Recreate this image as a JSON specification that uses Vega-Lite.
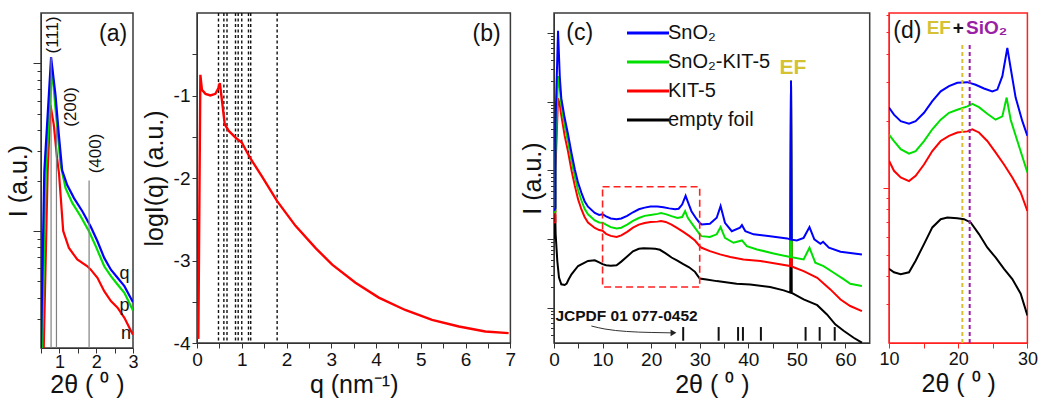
{
"$schema": "https://vega.github.io/schema/vega-lite/v6.json",
"background": "white",
"padding": {"left": 5, "top": 11, "right": 4, "bottom": 2},
"spacing": 0,
"bounds": "flush",
"resolve": {"scale": {"color": "independent"}},
"config": {
  "font": "Liberation Sans",
  "view": {"stroke": "#3a3a3a", "strokeWidth": 1.5},
  "axis": {"grid": false, "domainColor": "#333333", "tickColor": "#333333", "labelColor": "#111111", "titleColor": "#111111", "labelFontSize": 19, "titleFontSize": 25, "titleFontWeight": "normal", "tickSize": 5, "tickCount": 1000, "labelPadding": 2, "labelFlush": false, "labelOverlap": false, "labelBound": false, "titlePadding": 3},
  "legend": {"labelFont": "Liberation Sans"}
},
"datasets": {
  "a": [
    {"s":"n","x":0.574,"I":2},{"s":"n","x":0.68,"I":22.6},{"s":"n","x":0.757,"I":56.5},{"s":"n","x":0.848,"I":43},{"s":"n","x":0.938,"I":27},{"s":"n","x":0.99,"I":22},{"s":"n","x":1.103,"I":10},{"s":"n","x":1.259,"I":7.91},{"s":"n","x":1.486,"I":6.75},{"s":"n","x":1.76,"I":6.15},{"s":"n","x":1.853,"I":5.87},{"s":"n","x":2.034,"I":5.25},{"s":"n","x":2.218,"I":4.37},{"s":"n","x":2.4,"I":3.81},{"s":"n","x":2.58,"I":3.48},{"s":"n","x":2.766,"I":3.03},{"s":"n","x":2.95,"I":2.52},{"s":"n","x":3.0,"I":2.4},
    {"s":"p","x":0.53,"I":2},{"s":"p","x":0.63,"I":22.6},{"s":"p","x":0.8,"I":93},{"s":"p","x":0.894,"I":53.8},{"s":"p","x":0.985,"I":32.6},{"s":"p","x":1.03,"I":25},{"s":"p","x":1.168,"I":18.0},{"s":"p","x":1.35,"I":14.7},{"s":"p","x":1.58,"I":12.2},{"s":"p","x":1.807,"I":9.93},{"s":"p","x":1.99,"I":8.09},{"s":"p","x":2.218,"I":6.15},{"s":"p","x":2.4,"I":5.37},{"s":"p","x":2.58,"I":4.79},{"s":"p","x":2.766,"I":4.27},{"s":"p","x":3.0,"I":3.35},
    {"s":"q","x":0.5,"I":2},{"s":"q","x":0.59,"I":22.6},{"s":"q","x":0.774,"I":109},{"s":"q","x":0.894,"I":64.7},{"s":"q","x":0.985,"I":37.4},{"s":"q","x":1.075,"I":23},{"s":"q","x":1.212,"I":18.8},{"s":"q","x":1.396,"I":15.7},{"s":"q","x":1.623,"I":13.1},{"s":"q","x":1.853,"I":10.6},{"s":"q","x":2.034,"I":8.67},{"s":"q","x":2.218,"I":6.9},{"s":"q","x":2.4,"I":5.87},{"s":"q","x":2.58,"I":5.25},{"s":"q","x":2.766,"I":4.68},{"s":"q","x":3.0,"I":3.75}
  ],
  "ahkl": [{"hkl":"(111)","tt":0.774,"base":2,"top":109},{"hkl":"(200)","tt":0.92,"base":2,"top":42},{"hkl":"(400)","tt":1.807,"base":2,"top":20}],
  "b": [
    {"x":0.0,"y":-3.55},{"x":0.03,"y":-3.95},{"x":0.075,"y":-0.75},{"x":0.11,"y":-0.93},{"x":0.19,"y":-0.98},{"x":0.3,"y":-1.0},{"x":0.41,"y":-0.98},{"x":0.48,"y":-0.91},{"x":0.51,"y":-0.85},{"x":0.56,"y":-1.07},{"x":0.62,"y":-1.35},{"x":0.71,"y":-1.43},{"x":0.86,"y":-1.51},{"x":1.0,"y":-1.57},{"x":1.19,"y":-1.76},{"x":1.45,"y":-1.98},{"x":1.79,"y":-2.28},{"x":2.2,"y":-2.58},{"x":2.65,"y":-2.85},{"x":3.02,"y":-3.05},{"x":3.54,"y":-3.27},{"x":4.06,"y":-3.45},{"x":4.65,"y":-3.6},{"x":5.25,"y":-3.72},{"x":5.85,"y":-3.8},{"x":6.44,"y":-3.86},{"x":6.96,"y":-3.88}
  ],
  "bq": [{"q":0.48},{"q":0.6},{"q":0.67},{"q":0.86},{"q":0.92},{"q":1.0},{"q":1.15},{"q":1.2},{"q":1.79}],
  "jc": [{"p":26.6,"lo":0.331,"hi":0.524},{"p":33.9,"lo":0.331,"hi":0.524},{"p":37.9,"lo":0.331,"hi":0.524},{"p":38.9,"lo":0.331,"hi":0.524},{"p":42.6,"lo":0.331,"hi":0.524},{"p":51.8,"lo":0.331,"hi":0.524},{"p":54.7,"lo":0.331,"hi":0.524},{"p":57.8,"lo":0.331,"hi":0.524}],
  "box": [{"x1":10,"x2":30,"y1":2,"y2":57.5}],
  "arrow": [{"x":7.7,"y":0.542},{"x":10.5,"y":0.49},{"x":14.9,"y":0.452},{"x":20,"y":0.437},{"x":24.3,"y":0.431}],
  "dlines": [{"lab":"EF","p":20.6,"lo":2,"hi":44.7},{"lab":"SiO₂","p":21.66,"lo":2,"hi":44.7}],
  "c": [
    {"s":"empty foil","x":0.1,"I":10},{"s":"empty foil","x":0.25,"I":22.9},{"s":"empty foil","x":0.34,"I":11.7},{"s":"empty foil","x":0.68,"I":4.79},{"s":"empty foil","x":1.03,"I":2.75},{"s":"empty foil","x":1.5,"I":2.19},{"s":"empty foil","x":2.2,"I":2.14},{"s":"empty foil","x":2.6,"I":2.24},{"s":"empty foil","x":3.0,"I":2.57},{"s":"empty foil","x":3.6,"I":3.06},{"s":"empty foil","x":4.96,"I":4.05},{"s":"empty foil","x":7.0,"I":4.79},{"s":"empty foil","x":8.4,"I":4.9},{"s":"empty foil","x":9.3,"I":4.57},{"s":"empty foil","x":10,"I":4.31},{"s":"empty foil","x":10.72,"I":4.16},{"s":"empty foil","x":11.69,"I":4.08},{"s":"empty foil","x":12.89,"I":4.16},{"s":"empty foil","x":13.85,"I":4.69},{"s":"empty foil","x":15.06,"I":5.57},{"s":"empty foil","x":16.26,"I":6.62},{"s":"empty foil","x":17.47,"I":7.21},{"s":"empty foil","x":18.43,"I":7.33},{"s":"empty foil","x":19.87,"I":7.28},{"s":"empty foil","x":20.84,"I":7.21},{"s":"empty foil","x":21.8,"I":6.97},{"s":"empty foil","x":23.0,"I":6.18},{"s":"empty foil","x":24.2,"I":5.38},{"s":"empty foil","x":25.4,"I":4.85},{"s":"empty foil","x":26.62,"I":4.31},{"s":"empty foil","x":27.82,"I":3.88},{"s":"empty foil","x":29.03,"I":3.33},{"s":"empty foil","x":30,"I":2.66},{"s":"empty foil","x":31.4,"I":2.58},{"s":"empty foil","x":33.5,"I":2.44},{"s":"empty foil","x":37.6,"I":2.23},{"s":"empty foil","x":40.4,"I":2.18},{"s":"empty foil","x":44.5,"I":2.0},{"s":"empty foil","x":47.3,"I":1.79},{"s":"empty foil","x":48.65,"I":1.66},{"s":"empty foil","x":48.8,"I":2000},{"s":"empty foil","x":48.95,"I":1.64},{"s":"empty foil","x":51.4,"I":1.32},{"s":"empty foil","x":54.2,"I":1.09},{"s":"empty foil","x":56.2,"I":0.8},{"s":"empty foil","x":57.9,"I":0.573},{"s":"empty foil","x":59.7,"I":0.458},{"s":"empty foil","x":61.7,"I":0.366},{"s":"empty foil","x":63.4,"I":0.31},
    {"s":"KIT-5","x":0.05,"I":17},{"s":"KIT-5","x":0.29,"I":17.8},{"s":"KIT-5","x":0.3,"I":100},{"s":"KIT-5","x":0.83,"I":1120},{"s":"KIT-5","x":1.2,"I":891},{"s":"KIT-5","x":1.5,"I":631},{"s":"KIT-5","x":2.2,"I":316},{"s":"KIT-5","x":2.9,"I":186},{"s":"KIT-5","x":3.6,"I":100},{"s":"KIT-5","x":4.3,"I":58.9},{"s":"KIT-5","x":4.95,"I":38},{"s":"KIT-5","x":5.65,"I":26.9},{"s":"KIT-5","x":6.3,"I":20.9},{"s":"KIT-5","x":7.0,"I":17.4},{"s":"KIT-5","x":8.4,"I":14.5},{"s":"KIT-5","x":9.3,"I":13.5},{"s":"KIT-5","x":10,"I":13.2},{"s":"KIT-5","x":10.72,"I":11.9},{"s":"KIT-5","x":11.69,"I":11.1},{"s":"KIT-5","x":12.89,"I":10.7},{"s":"KIT-5","x":13.85,"I":11.3},{"s":"KIT-5","x":15.06,"I":12.7},{"s":"KIT-5","x":16.26,"I":14.6},{"s":"KIT-5","x":17.47,"I":16.2},{"s":"KIT-5","x":18.67,"I":17.1},{"s":"KIT-5","x":19.87,"I":17.7},{"s":"KIT-5","x":21.32,"I":17.9},{"s":"KIT-5","x":22.04,"I":18.3},{"s":"KIT-5","x":23.0,"I":17.7},{"s":"KIT-5","x":24.2,"I":16.2},{"s":"KIT-5","x":25.4,"I":14.4},{"s":"KIT-5","x":26.62,"I":12.7},{"s":"KIT-5","x":27.82,"I":11.1},{"s":"KIT-5","x":29.03,"I":9.51},{"s":"KIT-5","x":30,"I":7.85},{"s":"KIT-5","x":30.4,"I":7.46},{"s":"KIT-5","x":32.1,"I":6.67},{"s":"KIT-5","x":34.2,"I":5.97},{"s":"KIT-5","x":36.3,"I":5.46},{"s":"KIT-5","x":39.0,"I":5.05},{"s":"KIT-5","x":42.5,"I":4.78},{"s":"KIT-5","x":45.9,"I":4.37},{"s":"KIT-5","x":48.65,"I":4.04},{"s":"KIT-5","x":48.8,"I":2000},{"s":"KIT-5","x":48.95,"I":3.98},{"s":"KIT-5","x":51.4,"I":3.41},{"s":"KIT-5","x":54.2,"I":2.73},{"s":"KIT-5","x":56.9,"I":1.85},{"s":"KIT-5","x":59.0,"I":1.32},{"s":"KIT-5","x":61.0,"I":1.06},{"s":"KIT-5","x":63.4,"I":0.895},
    {"s":"SnO₂-KIT-5","x":0.05,"I":24},{"s":"SnO₂-KIT-5","x":0.29,"I":25.1},{"s":"SnO₂-KIT-5","x":0.3,"I":158},{"s":"SnO₂-KIT-5","x":0.83,"I":2340},{"s":"SnO₂-KIT-5","x":1.2,"I":1580},{"s":"SnO₂-KIT-5","x":1.5,"I":891},{"s":"SnO₂-KIT-5","x":2.2,"I":447},{"s":"SnO₂-KIT-5","x":2.9,"I":257},{"s":"SnO₂-KIT-5","x":3.6,"I":138},{"s":"SnO₂-KIT-5","x":4.3,"I":79.4},{"s":"SnO₂-KIT-5","x":4.95,"I":51.3},{"s":"SnO₂-KIT-5","x":5.65,"I":36.3},{"s":"SnO₂-KIT-5","x":6.3,"I":27.5},{"s":"SnO₂-KIT-5","x":7.0,"I":22.9},{"s":"SnO₂-KIT-5","x":8.4,"I":18.6},{"s":"SnO₂-KIT-5","x":9.3,"I":17.4},{"s":"SnO₂-KIT-5","x":10,"I":17.3},{"s":"SnO₂-KIT-5","x":10.72,"I":16.2},{"s":"SnO₂-KIT-5","x":11.69,"I":14.9},{"s":"SnO₂-KIT-5","x":12.89,"I":14.2},{"s":"SnO₂-KIT-5","x":13.85,"I":14.6},{"s":"SnO₂-KIT-5","x":15.06,"I":16.2},{"s":"SnO₂-KIT-5","x":16.26,"I":18.3},{"s":"SnO₂-KIT-5","x":17.47,"I":20.2},{"s":"SnO₂-KIT-5","x":18.67,"I":21.7},{"s":"SnO₂-KIT-5","x":19.87,"I":22.4},{"s":"SnO₂-KIT-5","x":21.32,"I":23.2},{"s":"SnO₂-KIT-5","x":22.04,"I":23.8},{"s":"SnO₂-KIT-5","x":23.0,"I":23.0},{"s":"SnO₂-KIT-5","x":24.2,"I":21.5},{"s":"SnO₂-KIT-5","x":25.4,"I":20.2},{"s":"SnO₂-KIT-5","x":26.38,"I":20.9},{"s":"SnO₂-KIT-5","x":27.0,"I":25.4},{"s":"SnO₂-KIT-5","x":27.58,"I":20.2},{"s":"SnO₂-KIT-5","x":28.55,"I":16.2},{"s":"SnO₂-KIT-5","x":30,"I":11.7},{"s":"SnO₂-KIT-5","x":30.4,"I":11.0},{"s":"SnO₂-KIT-5","x":32.1,"I":10.7},{"s":"SnO₂-KIT-5","x":33.5,"I":11.7},{"s":"SnO₂-KIT-5","x":34.3,"I":14.9},{"s":"SnO₂-KIT-5","x":35.2,"I":10.4},{"s":"SnO₂-KIT-5","x":36.95,"I":8.81},{"s":"SnO₂-KIT-5","x":38.7,"I":9.53},{"s":"SnO₂-KIT-5","x":39.7,"I":7.89},{"s":"SnO₂-KIT-5","x":41.8,"I":7.05},{"s":"SnO₂-KIT-5","x":45.2,"I":6.17},{"s":"SnO₂-KIT-5","x":48.65,"I":5.46},{"s":"SnO₂-KIT-5","x":48.8,"I":2000},{"s":"SnO₂-KIT-5","x":48.95,"I":5.43},{"s":"SnO₂-KIT-5","x":51.4,"I":5.05},{"s":"SnO₂-KIT-5","x":52.6,"I":7.46},{"s":"SnO₂-KIT-5","x":53.8,"I":4.52},{"s":"SnO₂-KIT-5","x":55.5,"I":4.04},{"s":"SnO₂-KIT-5","x":57.6,"I":3.23},{"s":"SnO₂-KIT-5","x":59.7,"I":2.58},{"s":"SnO₂-KIT-5","x":61.0,"I":2.23},{"s":"SnO₂-KIT-5","x":63.4,"I":2.07},
    {"s":"SnO₂","x":0.05,"I":25.7},{"s":"SnO₂","x":0.29,"I":28.2},{"s":"SnO₂","x":0.3,"I":468},{"s":"SnO₂","x":0.83,"I":10700},{"s":"SnO₂","x":1.2,"I":2240},{"s":"SnO₂","x":1.5,"I":1120},{"s":"SnO₂","x":2.2,"I":575},{"s":"SnO₂","x":2.9,"I":331},{"s":"SnO₂","x":3.6,"I":178},{"s":"SnO₂","x":4.3,"I":102},{"s":"SnO₂","x":4.95,"I":66.1},{"s":"SnO₂","x":5.65,"I":46.8},{"s":"SnO₂","x":6.3,"I":35.5},{"s":"SnO₂","x":7.0,"I":29.5},{"s":"SnO₂","x":8.4,"I":24},{"s":"SnO₂","x":9.3,"I":22.4},{"s":"SnO₂","x":10,"I":22.9},{"s":"SnO₂","x":10.72,"I":21.3},{"s":"SnO₂","x":11.69,"I":19.9},{"s":"SnO₂","x":12.89,"I":19.4},{"s":"SnO₂","x":13.85,"I":19.9},{"s":"SnO₂","x":15.06,"I":21.7},{"s":"SnO₂","x":16.26,"I":24.5},{"s":"SnO₂","x":17.47,"I":27.1},{"s":"SnO₂","x":18.67,"I":28.6},{"s":"SnO₂","x":19.87,"I":29.6},{"s":"SnO₂","x":21.32,"I":29.8},{"s":"SnO₂","x":22.52,"I":29.0},{"s":"SnO₂","x":23.73,"I":27.9},{"s":"SnO₂","x":24.93,"I":27.1},{"s":"SnO₂","x":25.66,"I":27.6},{"s":"SnO₂","x":26.38,"I":31.7},{"s":"SnO₂","x":27.1,"I":42.5},{"s":"SnO₂","x":27.58,"I":34.5},{"s":"SnO₂","x":28.3,"I":25.4},{"s":"SnO₂","x":29.27,"I":19.9},{"s":"SnO₂","x":30,"I":17.1},{"s":"SnO₂","x":30.4,"I":16.3},{"s":"SnO₂","x":32.1,"I":16.7},{"s":"SnO₂","x":33.5,"I":20.4},{"s":"SnO₂","x":34.3,"I":30.1},{"s":"SnO₂","x":35.2,"I":17.2},{"s":"SnO₂","x":36.6,"I":13.0},{"s":"SnO₂","x":38.3,"I":14.6},{"s":"SnO₂","x":38.7,"I":15.9},{"s":"SnO₂","x":39.4,"I":13.0},{"s":"SnO₂","x":41.1,"I":11.7},{"s":"SnO₂","x":44.5,"I":11.0},{"s":"SnO₂","x":48.0,"I":10.2},{"s":"SnO₂","x":48.65,"I":9.86},{"s":"SnO₂","x":48.8,"I":2000},{"s":"SnO₂","x":48.95,"I":9.77},{"s":"SnO₂","x":50.0,"I":9.53},{"s":"SnO₂","x":51.4,"I":10.4},{"s":"SnO₂","x":52.6,"I":14.9},{"s":"SnO₂","x":53.6,"I":9.86},{"s":"SnO₂","x":54.85,"I":8.53},{"s":"SnO₂","x":55.4,"I":9.12},{"s":"SnO₂","x":56.6,"I":7.46},{"s":"SnO₂","x":59.0,"I":6.53},{"s":"SnO₂","x":63.4,"I":5.97}
  ]
},
"hconcat": [
  {
    "width": 92, "height": 335,
    "layer": [
      {"data": {"name": "a"},
       "mark": {"type": "line", "strokeWidth": 2.2, "clip": true},
       "encoding": {
         "x": {"field": "x", "type": "quantitative", "title": "2θ ( ⁰ )", "scale": {"domain": [0.5, 3], "nice": false, "zero": false}, "axis": {"values": [0.5, 1, 1.5, 2, 2.5, 3], "tickCount": 1000, "labelExpr": "datum.value % 1 ? '' : '' + datum.value", "labelFontSize": 18, "labelPadding": 0, "titlePadding": 1}},
         "y": {"field": "I", "type": "quantitative", "title": "I (a.u.)", "scale": {"type": "log", "domain": [2, 200], "nice": false}, "axis": {"values": [3,4,5,6,7,8,9,10,20,30,40,50,60,70,80,90,100], "tickCount": 1000, "tickSize": {"condition": {"test": "datum.value == 10 || datum.value == 100", "value": 8}, "value": 4}, "labels": false, "titlePadding": 1}},
         "color": {"field": "s", "type": "nominal", "scale": {"domain": ["q", "p", "n"], "range": ["#0000ff", "#00e000", "#ff0000"]}, "legend": null}
       }},
      {"data": {"name": "ahkl"},
       "mark": {"type": "rule", "color": "#808080", "strokeWidth": 1.2},
       "encoding": {
         "x": {"field": "tt", "type": "quantitative", "title": "2θ ( ⁰ )"},
         "y": {"field": "base", "type": "quantitative", "title": "I (a.u.)"},
         "y2": {"field": "top"}
       }},
      {"data": {"values": [{}]}, "mark": {"type": "text", "text": "(a)", "fontSize": 23, "color": "#111"},
       "encoding": {"x": {"datum": 2.46, "type": "quantitative"}, "y": {"datum": 150, "type": "quantitative"}}},
      {"data": {"values": [{}]}, "mark": {"type": "text", "text": "(111)", "fontSize": 17, "angle": 270, "color": "#111"},
       "encoding": {"x": {"datum": 0.82, "type": "quantitative"}, "y": {"datum": 148, "type": "quantitative"}}},
      {"data": {"values": [{}]}, "mark": {"type": "text", "text": "(200)", "fontSize": 17, "angle": 270, "color": "#111"},
       "encoding": {"x": {"datum": 1.315, "type": "quantitative"}, "y": {"datum": 55, "type": "quantitative"}}},
      {"data": {"values": [{}]}, "mark": {"type": "text", "text": "(400)", "fontSize": 17, "angle": 270, "color": "#111"},
       "encoding": {"x": {"datum": 2.0, "type": "quantitative"}, "y": {"datum": 29, "type": "quantitative"}}},
      {"data": {"values": [{}]}, "mark": {"type": "text", "text": "q", "fontSize": 18, "color": "#111"},
       "encoding": {"x": {"datum": 2.766, "type": "quantitative"}, "y": {"datum": 5.5, "type": "quantitative"}}},
      {"data": {"values": [{}]}, "mark": {"type": "text", "text": "p", "fontSize": 18, "color": "#111"},
       "encoding": {"x": {"datum": 2.766, "type": "quantitative"}, "y": {"datum": 3.56, "type": "quantitative"}}},
      {"data": {"values": [{}]}, "mark": {"type": "text", "text": "n", "fontSize": 18, "color": "#111"},
       "encoding": {"x": {"datum": 2.81, "type": "quantitative"}, "y": {"datum": 2.42, "type": "quantitative"}}}
    ]
  },
  {"width": 64, "height": 10, "data": {"values": [{}]}, "mark": {"type": "point", "opacity": 0}, "encoding": {}, "view": {"stroke": null}},
  {
    "width": 313.4, "height": 330,
    "layer": [
      {"data": {"name": "bq"},
       "mark": {"type": "rule", "strokeDash": [3, 2.5], "strokeWidth": 1.4, "color": "#111"},
       "encoding": {"x": {"field": "q", "type": "quantitative", "title": "q (nm⁻¹)", "scale": {"domain": [0, 7], "nice": false}, "axis": {"values": [0,0.5,1,1.5,2,2.5,3,3.5,4,4.5,5,5.5,6,6.5,7], "tickCount": 1000, "labelExpr": "datum.value % 1 ? '' : '' + datum.value"}}}},
      {"data": {"name": "b"},
       "mark": {"type": "line", "color": "#ff0000", "strokeWidth": 2.4, "clip": true},
       "encoding": {
         "x": {"field": "x", "type": "quantitative", "title": "q (nm⁻¹)"},
         "y": {"field": "y", "type": "quantitative", "title": "logI(q) (a.u.)", "scale": {"domain": [-4, 0], "nice": false}, "axis": {"values": [-4,-3.5,-3,-2.5,-2,-1.5,-1,-0.5], "tickCount": 1000, "labelExpr": "datum.value % 1 ? '' : '' + datum.value", "titlePadding": 6}}
       }},
      {"data": {"values": [{}]}, "mark": {"type": "text", "text": "(b)", "fontSize": 23, "color": "#111"},
       "encoding": {"x": {"datum": 6.47, "type": "quantitative"}, "y": {"datum": -0.26, "type": "quantitative"}}}
    ]
  },
  {"width": 42.6, "height": 10, "data": {"values": [{}]}, "mark": {"type": "point", "opacity": 0}, "encoding": {}, "view": {"stroke": null}},
  {
    "width": 315.7, "height": 330,
    "layer": [
      {"data": {"name": "c"},
       "mark": {"type": "line", "strokeWidth": 2, "clip": true},
       "encoding": {
         "x": {"field": "x", "type": "quantitative", "title": "2θ ( ⁰ )", "scale": {"domain": [0, 65], "nice": false}, "axis": {"values": [0,5,10,15,20,25,30,35,40,45,50,55,60], "tickCount": 1000, "labelExpr": "datum.value % 10 ? '' : '' + datum.value"}},
         "y": {"field": "I", "type": "quantitative", "title": "I (a.u.)", "scale": {"type": "log", "domain": [0.307, 19400], "nice": false}, "axis": {"values": [0.4,0.5,0.6,0.7,0.8,0.9,1,2,3,4,5,6,7,8,9,10,20,30,40,50,60,70,80,90,100,200,300,400,500,600,700,800,900,1000,2000,3000,4000,5000,6000,7000,8000,9000,10000], "tickCount": 1000, "tickSize": {"condition": {"test": "indexof([1,10,100,1000,10000], datum.value) >= 0", "value": 7}, "value": 3.5}, "labels": false, "titlePadding": 1}},
         "color": {"field": "s", "type": "nominal", "scale": {"domain": ["SnO₂", "SnO₂-KIT-5", "KIT-5", "empty foil"], "range": ["#0000ff", "#00e000", "#ff0000", "#000000"]},
           "legend": {"orient": "none", "legendX": 84, "legendY": 10, "title": null, "symbolType": "M-3,0H3", "symbolSize": 196, "symbolStrokeWidth": 3, "labelFontSize": 20, "labelOffset": 10, "rowPadding": 9, "labelColor": "#111"}}
       }},
      {"data": {"name": "box"},
       "mark": {"type": "rect", "fillOpacity": 0, "stroke": "#ff2020", "strokeWidth": 1.6, "strokeDash": [7, 4]},
       "encoding": {
         "x": {"field": "x1", "type": "quantitative", "title": "2θ ( ⁰ )"}, "x2": {"field": "x2"},
         "y": {"field": "y1", "type": "quantitative", "title": "I (a.u.)"}, "y2": {"field": "y2"}
       }},
      {"data": {"name": "jc"},
       "mark": {"type": "rule", "color": "#111", "strokeWidth": 2},
       "encoding": {"x": {"field": "p", "type": "quantitative", "title": "2θ ( ⁰ )"}, "y": {"field": "lo", "type": "quantitative", "title": "I (a.u.)"}, "y2": {"field": "hi"}}},
      {"data": {"name": "arrow"},
       "mark": {"type": "line", "color": "#333", "strokeWidth": 1, "interpolate": "monotone"},
       "encoding": {"x": {"field": "x", "type": "quantitative", "title": "2θ ( ⁰ )"}, "y": {"field": "y", "type": "quantitative", "title": "I (a.u.)"}}},
      {"data": {"values": [{}]}, "mark": {"type": "point", "shape": "triangle-right", "size": 45, "filled": true, "color": "#222", "opacity": 1},
       "encoding": {"x": {"datum": 24.6, "type": "quantitative"}, "y": {"datum": 0.431, "type": "quantitative"}}},
      {"data": {"values": [{}]}, "mark": {"type": "text", "text": "JCPDF 01 077-0452", "fontSize": 15.5, "fontWeight": "bold", "align": "left", "color": "#111"},
       "encoding": {"x": {"datum": 0.3, "type": "quantitative"}, "y": {"datum": 0.76, "type": "quantitative"}}},
      {"data": {"values": [{}]}, "mark": {"type": "text", "text": "EF", "fontSize": 21, "fontWeight": "bold", "color": "#d4c232"},
       "encoding": {"x": {"datum": 49.2, "type": "quantitative"}, "y": {"datum": 3070, "type": "quantitative"}}},
      {"data": {"values": [{}]}, "mark": {"type": "text", "text": "(c)", "fontSize": 23, "color": "#111"},
       "encoding": {"x": {"datum": 5.3, "type": "quantitative"}, "y": {"datum": 9900, "type": "quantitative"}}}
    ]
  },
  {"width": 18.3, "height": 10, "data": {"values": [{}]}, "mark": {"type": "point", "opacity": 0}, "encoding": {}, "view": {"stroke": null}},
  {
    "width": 138.4, "height": 330,
    "view": {"stroke": "#ff2020", "strokeWidth": 1.5},
    "layer": [
      {"data": {"name": "c"},
       "transform": [{"filter": {"field": "x", "range": [10, 30]}}],
       "mark": {"type": "line", "strokeWidth": 2, "clip": true},
       "encoding": {
         "x": {"field": "x", "type": "quantitative", "title": "2θ ( ⁰ )", "scale": {"domain": [10, 30], "nice": false}, "axis": {"values": [10, 15, 20, 25, 30], "tickCount": 1000, "labelExpr": "datum.value % 10 ? '' : '' + datum.value", "labelFontSize": 18, "domainColor": "#ff2020", "tickColor": "#ff2020"}},
         "y": {"field": "I", "type": "quantitative", "title": null, "scale": {"type": "log", "domain": [2, 61], "nice": false}, "axis": {"values": [3,4,5,6,7,8,9,10,20,30,40,50,60], "tickCount": 1000, "tickSize": {"condition": {"test": "datum.value == 10", "value": 6}, "value": 3}, "labels": false, "domainColor": "#ff2020", "tickColor": "#ff2020"}},
         "color": {"field": "s", "type": "nominal", "scale": {"domain": ["SnO₂", "SnO₂-KIT-5", "KIT-5", "empty foil"], "range": ["#0000ff", "#00e000", "#ff0000", "#000000"]}, "legend": null}
       }},
      {"data": {"name": "dlines"},
       "transform": [{"filter": "datum.lab == 'EF'"}],
       "mark": {"type": "rule", "strokeWidth": 2, "strokeDash": [4, 3], "color": "#d4c232"},
       "encoding": {"x": {"field": "p", "type": "quantitative", "title": "2θ ( ⁰ )"}, "y": {"field": "lo", "type": "quantitative", "title": null}, "y2": {"field": "hi"}}},
      {"data": {"name": "dlines"},
       "transform": [{"filter": "datum.lab != 'EF'"}],
       "mark": {"type": "rule", "strokeWidth": 2, "strokeDash": [4, 3], "color": "#9b1fa4"},
       "encoding": {"x": {"field": "p", "type": "quantitative", "title": "2θ ( ⁰ )"}, "y": {"field": "lo", "type": "quantitative", "title": null}, "y2": {"field": "hi"}}},
      {"data": {"values": [{}]}, "mark": {"type": "text", "text": "(d)", "fontSize": 23, "color": "#111"},
       "encoding": {"x": {"datum": 12.66, "type": "quantitative"}, "y": {"datum": 50.5, "type": "quantitative"}}},
      {"data": {"values": [{}]}, "mark": {"type": "text", "text": "EF", "fontSize": 19, "fontWeight": "bold", "color": "#d4c232"},
       "encoding": {"x": {"datum": 17.2, "type": "quantitative"}, "y": {"datum": 52, "type": "quantitative"}}},
      {"data": {"values": [{}]}, "mark": {"type": "text", "text": "+", "fontSize": 19, "fontWeight": "bold", "color": "#111"},
       "encoding": {"x": {"datum": 20.0, "type": "quantitative"}, "y": {"datum": 52, "type": "quantitative"}}},
      {"data": {"values": [{}]}, "mark": {"type": "text", "text": "SiO₂", "fontSize": 19, "fontWeight": "bold", "color": "#9b1fa4"},
       "encoding": {"x": {"datum": 24.1, "type": "quantitative"}, "y": {"datum": 52, "type": "quantitative"}}}
    ]
  }
]
}
